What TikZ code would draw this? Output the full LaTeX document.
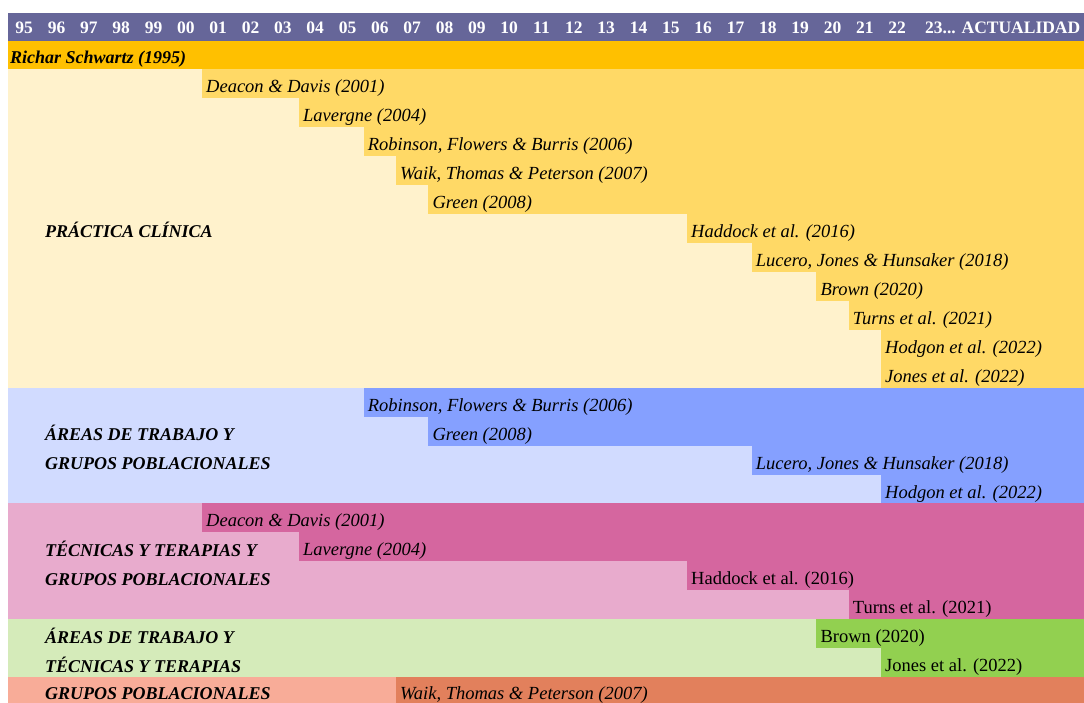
\documentclass[tikz,border=0pt]{standalone}
\usepackage{fontspec}
\setmainfont{Liberation Serif}
\definecolor{hdrcol}{HTML}{666699}
\definecolor{goldcol}{HTML}{FFC000}
\definecolor{yellowlight}{HTML}{FFF2CC}
\definecolor{yellowbar}{HTML}{FFD966}
\definecolor{bluelight}{HTML}{D1DBFF}
\definecolor{bluebar}{HTML}{85A0FF}
\definecolor{pinklight}{HTML}{E8ABCD}
\definecolor{pinkbar}{HTML}{D5669F}
\definecolor{greenlight}{HTML}{D5EBBA}
\definecolor{greenbar}{HTML}{92D050}
\definecolor{salmonlight}{HTML}{F8AC98}
\definecolor{salmonbar}{HTML}{E2805C}
\tikzset{
  lab/.style={inner sep=0pt, anchor=base west, text=black, font=\fontsize{18.5}{20}\selectfont\itshape},
  labup/.style={inner sep=0pt, anchor=base west, text=black, font=\fontsize{18.5}{20}\selectfont},
  cat/.style={inner sep=0pt, anchor=base west, text=black, font=\fontsize{18}{20}\selectfont\bfseries\itshape},
  hd/.style={inner sep=0pt, anchor=base, text=white, font=\fontsize{17.5}{20}\selectfont\bfseries},
}
% #1 name, #2 years since 1995, #3 row top, #4 row bottom, #5 colour, #6 style, #7 text
\newcommand\tlbar[7]{%
  \fill[fill=#5] ({8+#2*32.333},#3) rectangle (1084,#4);
  \node[#6] (#1) at ({12+#2*32.333},#3+23.5) {#7};
}
\begin{document}
\begin{tikzpicture}[x=1pt,y=-1pt]
\useasboundingbox (0,0) rectangle (1084,702);
\clip (0,0) rectangle (1084,702);
% header
\fill[fill=hdrcol] (8,13) rectangle (1084,41);
\foreach \lab [count=\k from 0] in {95,96,97,98,99,00,01,02,03,04,05,06,07,08,09,10,11,12,13,14,15,16,17,18,19,20,21,22}
  \node[hd] (h\k) at ({8+(\k+0.5)*32.333},33) {\lab};
\node[hd, anchor=base west] (hact) at (925,33) {23... ACTUALIDAD};
% Richar Schwartz
\fill[fill=goldcol] (8,41) rectangle (1084,69);
\node[cat] (rich) at (10,63) {Richar Schwartz (1995)};
% Practica clinica
\fill[fill=yellowlight] (8,69) rectangle (1084,388);
\tlbar{y0}{6}{69}{98}{yellowbar}{lab}{Deacon \& Davis (2001)}
\tlbar{y1}{9}{98}{127}{yellowbar}{lab}{Lavergne (2004)}
\tlbar{y2}{11}{127}{156}{yellowbar}{lab}{Robinson, Flowers \& Burris (2006)}
\tlbar{y3}{12}{156}{185}{yellowbar}{lab}{Waik, Thomas \& Peterson (2007)}
\tlbar{y4}{13}{185}{214}{yellowbar}{lab}{Green (2008)}
\tlbar{y5}{21}{214}{243}{yellowbar}{lab}{Haddock et al. (2016)}
\tlbar{y6}{23}{243}{272}{yellowbar}{lab}{Lucero, Jones \& Hunsaker (2018)}
\tlbar{y7}{25}{272}{301}{yellowbar}{lab}{Brown (2020)}
\tlbar{y8}{26}{301}{330}{yellowbar}{lab}{Turns et al. (2021)}
\tlbar{y9}{27}{330}{359}{yellowbar}{lab}{Hodgon et al. (2022)}
\tlbar{y10}{27}{359}{388}{yellowbar}{lab}{Jones et al. (2022)}
\node[cat] (c1) at (45,237) {PRÁCTICA CLÍNICA};
% Areas de trabajo y grupos poblacionales
\fill[fill=bluelight] (8,388) rectangle (1084,503);
\tlbar{b0}{11}{388}{417}{bluebar}{lab}{Robinson, Flowers \& Burris (2006)}
\tlbar{b1}{13}{417}{446}{bluebar}{lab}{Green (2008)}
\tlbar{b2}{23}{446}{475}{bluebar}{lab}{Lucero, Jones \& Hunsaker (2018)}
\tlbar{b3}{27}{475}{503}{bluebar}{lab}{Hodgon et al. (2022)}
\node[cat] (c2a) at (45,440) {ÁREAS DE TRABAJO Y};
\node[cat] (c2b) at (45,469) {GRUPOS POBLACIONALES};
% Tecnicas y terapias y grupos poblacionales
\fill[fill=pinklight] (8,503) rectangle (1084,619);
\tlbar{p0}{6}{503}{532}{pinkbar}{lab}{Deacon \& Davis (2001)}
\tlbar{p1}{9}{532}{561}{pinkbar}{lab}{Lavergne (2004)}
\tlbar{p2}{21}{561}{590}{pinkbar}{labup}{Haddock et al. (2016)}
\tlbar{p3}{26}{590}{619}{pinkbar}{labup}{Turns et al. (2021)}
\node[cat] (c3a) at (45,556) {TÉCNICAS Y TERAPIAS Y};
\node[cat] (c3b) at (45,585) {GRUPOS POBLACIONALES};
% Areas de trabajo y tecnicas y terapias
\fill[fill=greenlight] (8,619) rectangle (1084,677);
\tlbar{g0}{25}{619}{648}{greenbar}{labup}{Brown (2020)}
\tlbar{g1}{27}{648}{677}{greenbar}{labup}{Jones et al. (2022)}
\node[cat] (c4a) at (45,643) {ÁREAS DE TRABAJO Y};
\node[cat] (c4b) at (45,672) {TÉCNICAS Y TERAPIAS};
% Grupos poblacionales
\fill[fill=salmonlight] (8,677) rectangle (1084,706);
\fill[fill=salmonbar] ({8+12*32.333},677) rectangle (1084,706);
\node[lab] (s0) at ({12+12*32.333},699) {Waik, Thomas \& Peterson (2007)};
\node[cat] (c5) at (45,699) {GRUPOS POBLACIONALES};
\end{tikzpicture}
\end{document}
